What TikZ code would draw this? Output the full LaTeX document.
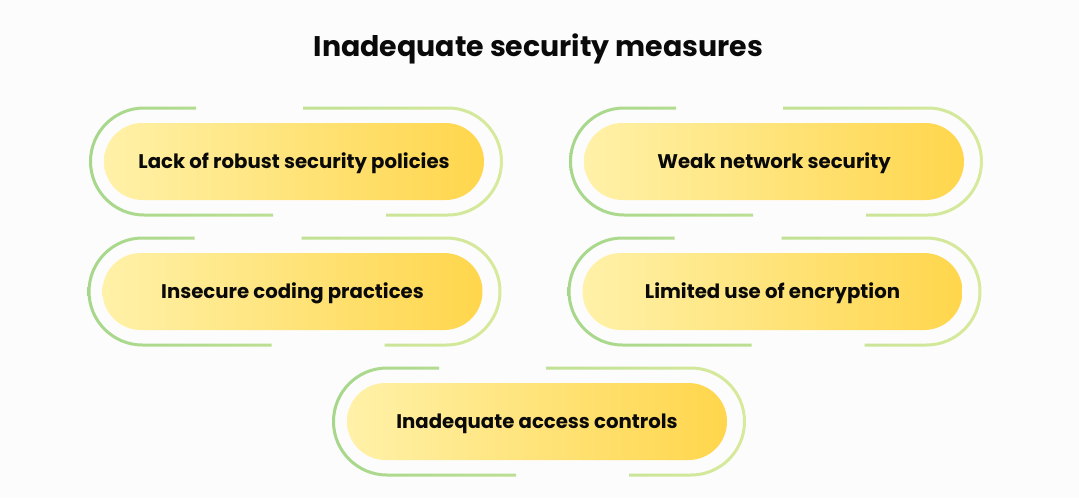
\documentclass[tikz,border=0pt]{standalone}
\usepackage{fontspec}
\setmainfont{Poppins}[UprightFont=* SemiBold, BoldFont=* Bold]
\usetikzlibrary{shapes.misc}
\definecolor{bg}{HTML}{FCFCFC}
\definecolor{fillL}{HTML}{FFF1A8}
\definecolor{fillR}{HTML}{FFD64C}
\definecolor{ringL}{HTML}{A6D78B}
\definecolor{ringR}{HTML}{D8EA9C}
\definecolor{ink}{HTML}{0A0A0A}
\tikzset{
  pillbox/.style={rounded rectangle, minimum width=380pt, minimum height=77pt,
    inner sep=0pt, left color=fillL, right color=fillR, draw=none,
    font=\fontsize{19.7}{24}\selectfont\bfseries, text=ink, text height=14.8pt, text depth=0pt},
  titlebox/.style={font=\fontsize{28.4}{34}\selectfont\bfseries, text=ink, anchor=base},
  ringshade/.style={left color=ringL, right color=ringR},
}
% #1 name, #2 cx, #3 cy (pixels, y down), #4 text
\newcommand\pillitem[4]{%
  \begin{scope}[even odd rule]
    \clip (0,0) rectangle (1079,498)
      ({#2-98},{#3-62}) rectangle ({#2+9},{#3-44})
      ({#2-21},{#3+44}) rectangle ({#2+92},{#3+62});
    \begin{scope}[rounded corners=55pt]
      \clip ({#2-205},{#3-55}) rectangle ({#2+209},{#3+55})
        [rounded corners=52pt] ({#2-202},{#3-52}) rectangle ({#2+206},{#3+52});
      \shade[ringshade, sharp corners] ({#2-207},{#3-57}) rectangle ({#2+211},{#3+57});
    \end{scope}
  \end{scope}
  \node[pillbox] (#1) at (#2,#3) {#4};
}
\begin{document}
\begin{tikzpicture}[x=1pt,y=-1pt]
  \fill[bg] (0,0) rectangle (1079,498);
  \node[titlebox] (title) at (538.5,56) {Inadequate security measures};
  \pillitem{policies}{294}{161.5}{Lack of robust security policies}
  \pillitem{network}{774}{161.5}{Weak network security}
  \pillitem{coding}{292.5}{291.5}{Insecure coding practices}
  \pillitem{encryption}{772.5}{291.5}{Limited use of encryption}
  \pillitem{access}{537}{421.5}{Inadequate access controls}
\end{tikzpicture}
\end{document}
